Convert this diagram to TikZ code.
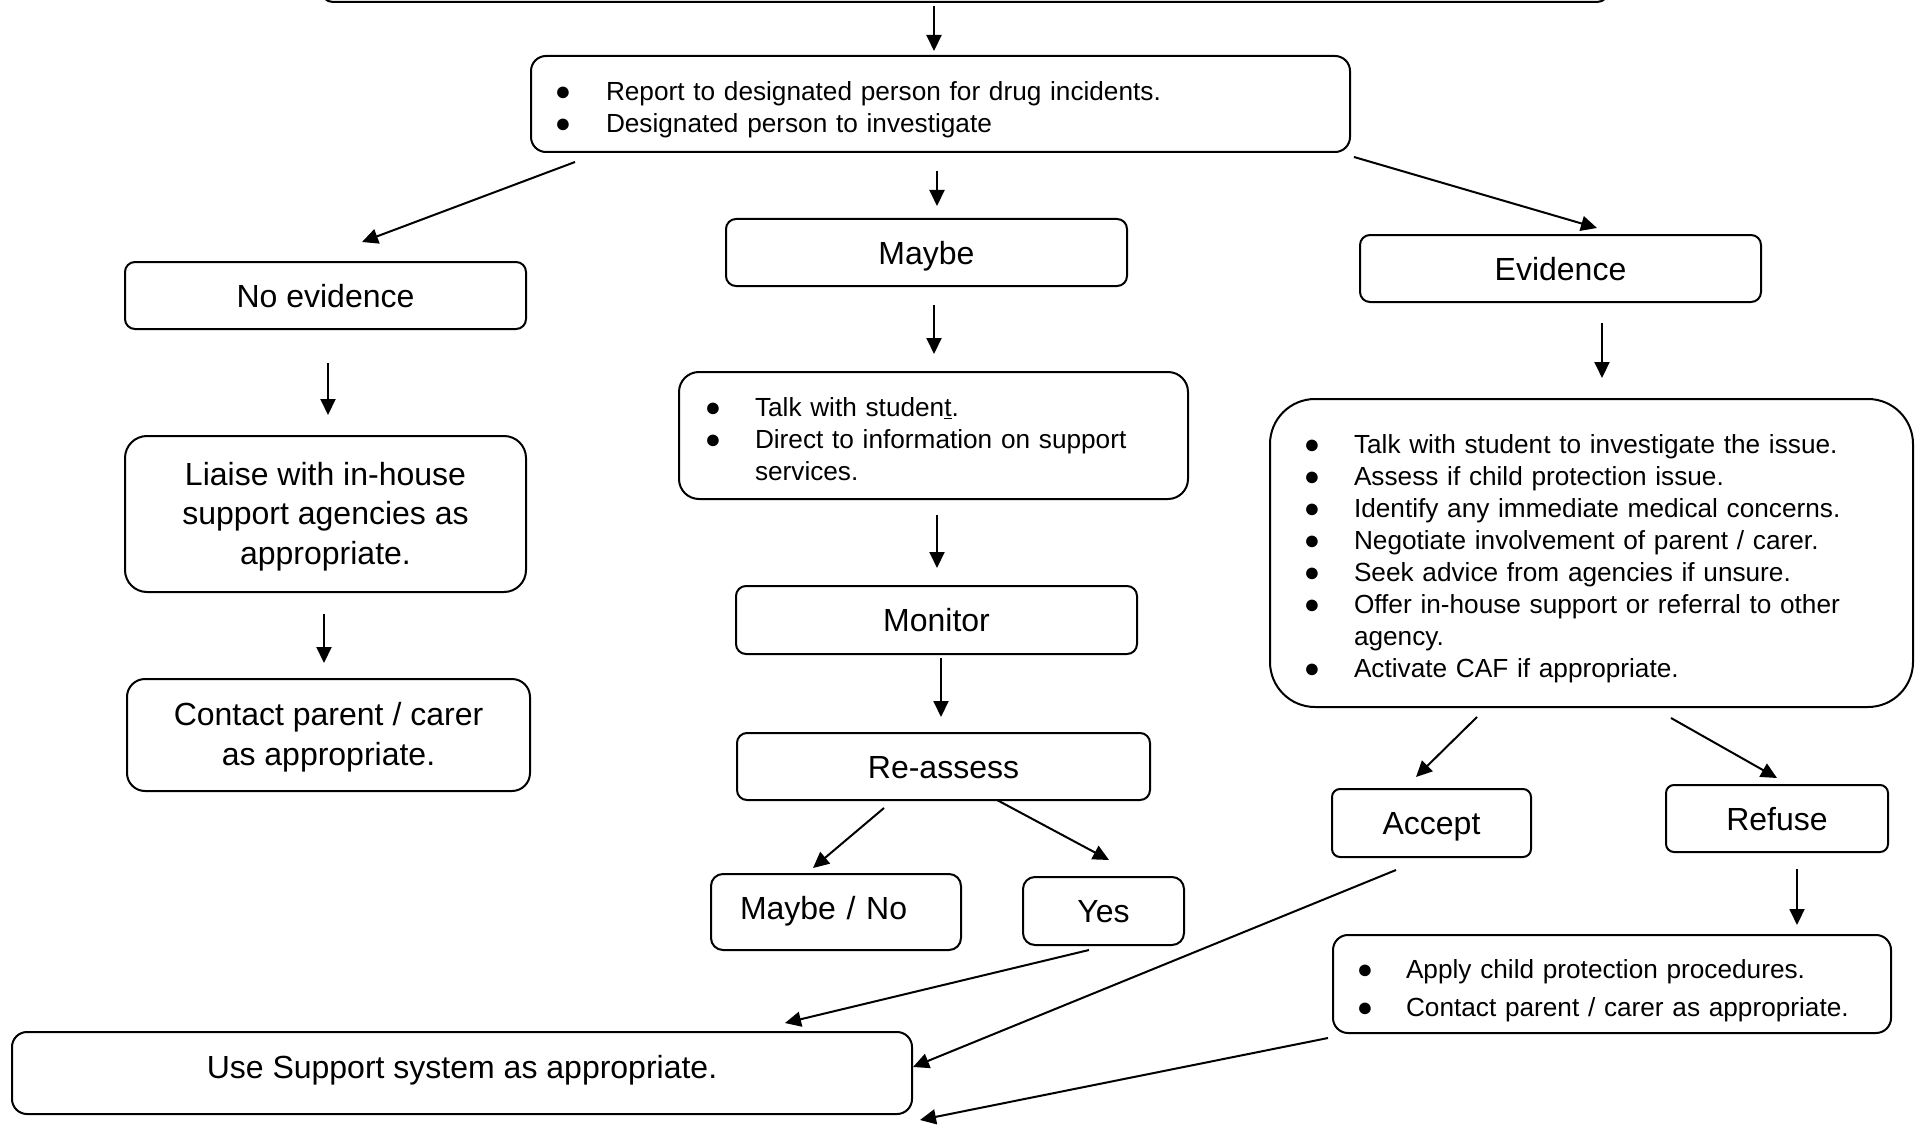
\documentclass[tikz,border=0pt]{standalone}
\usepackage{fontspec}
\setmainfont{Liberation Sans}
\usetikzlibrary{arrows.meta}
\newcommand{\bdot}{\raisebox{0pt}{\fontsize{27}{27}\selectfont ●}}
\newcommand{\bl}[3]{\hspace*{#1pt}\makebox[0pt]{\bdot}\hspace*{#2pt}#3}
\newcommand{\up}[1]{\rule{0pt}{#1pt}}
\begin{document}
\begin{tikzpicture}[x=1pt,y=-1pt,
  box/.style={draw, line width=2pt, inner sep=0pt, outer sep=0pt},
  lbl/.style={font=\fontsize{32}{39}\selectfont, text height=23pt, text depth=0pt},
  multi/.style={font=\fontsize{32}{39.5}\selectfont, align=center},
  small/.style={font=\fontsize{26.2}{32}\selectfont, align=left},
  arr/.style={line width=2pt, -{Triangle[length=16pt,width=15pt]}}]
\useasboundingbox (0,0) rectangle (1919,1126);
% boxes
\node[box, rounded corners=12pt, minimum width=1288pt, minimum height=80pt] (top) at (965,-38) {};
\node[box, rounded corners=15pt, minimum width=819pt, minimum height=96pt, text width=819pt, small] (b1) at (940.5,104)
  {\up{31}\bl{32}{43}{Report to designated person for drug incidents.}\\ \bl{32}{43}{Designated person to investigate}};
\node[box, rounded corners=10pt, minimum width=401pt, minimum height=67pt, lbl] (noev) at (325.5,295.5) {No evidence};
\node[box, rounded corners=10pt, minimum width=401pt, minimum height=67pt, lbl] (maybe) at (926.5,252.5) {Maybe};
\node[box, rounded corners=10pt, minimum width=401pt, minimum height=67pt, lbl] (evid) at (1560.5,268.5) {Evidence};
\node[box, rounded corners=22pt, minimum width=401pt, minimum height=156pt, multi] (liaise) at (325.5,514)
  {\up{28.5}Liaise with in-house\\ support agencies as\\ appropriate.};
\node[box, rounded corners=20pt, minimum width=509pt, minimum height=127pt, text width=509pt, small] (talk) at (933.5,435.5)
  {\up{26}\bl{34}{42}{Talk with studen\underline{t}.}\\ \bl{34}{42}{Direct to information on support}\\ \hspace*{76pt}services.};
\node[box, rounded corners=45pt, minimum width=643pt, minimum height=308pt, text width=643pt, small] (evbig) at (1591.5,553)
  {\up{30}\bl{42}{42}{Talk with student to investigate the issue.}\\
   \bl{42}{42}{Assess if child protection issue.}\\
   \bl{42}{42}{Identify any immediate medical concerns.}\\
   \bl{42}{42}{Negotiate involvement of parent / carer.}\\
   \bl{42}{42}{Seek advice from agencies if unsure.}\\
   \bl{42}{42}{Offer in-house support or referral to other}\\
   \hspace*{84pt}agency.\\
   \bl{42}{42}{Activate CAF if appropriate.}};
\node[box, rounded corners=18pt, minimum width=403pt, minimum height=112pt, multi] (contact) at (328.5,735)
  {\up{28}Contact parent / carer\\ as appropriate.};
\node[box, rounded corners=10pt, minimum width=401pt, minimum height=68pt, lbl] (monitor) at (936.5,620) {Monitor};
\node[box, rounded corners=10pt, minimum width=413pt, minimum height=67pt, lbl] (reassess) at (943.5,766.5) {Re-assess};
\node[box, rounded corners=8pt, minimum width=199pt, minimum height=68pt, lbl] (accept) at (1431.5,823) {Accept};
\node[box, rounded corners=8pt, minimum width=222pt, minimum height=67pt, lbl] (refuse) at (1777,818.5) {Refuse};
\node[box, rounded corners=12pt, minimum width=250pt, minimum height=76pt, text width=192pt, inner xsep=29pt, align=left, lbl, text depth=8pt] (mbno) at (836,912) {Maybe / No};
\node[box, rounded corners=12pt, minimum width=161pt, minimum height=68pt, lbl] (yes) at (1103.5,911) {Yes};
\node[box, rounded corners=15pt, minimum width=558pt, minimum height=98pt, text width=558pt, font=\fontsize{26.2}{38}\selectfont, align=left] (apply) at (1612,984)
  {\up{33}\bl{32}{41}{Apply child protection procedures.}\\ \bl{32}{41}{Contact parent / carer as appropriate.}};
\node[box, rounded corners=15pt, minimum width=900pt, minimum height=82pt, lbl, text depth=12pt] (use) at (462,1073) {Use Support system as appropriate.};
% connector end points
\coordinate (s0) at (934,6);    \coordinate (e0) at (934,51);
\coordinate (s1) at (575,162);  \coordinate (e1) at (362,242);
\coordinate (s2) at (937,171);  \coordinate (e2) at (937,206);
\coordinate (s3) at (1354,157); \coordinate (e3) at (1597,228);
\coordinate (s4) at (328,363);  \coordinate (e4) at (328,415);
\coordinate (s5) at (934,305);  \coordinate (e5) at (934,354);
\coordinate (s6) at (1602,323); \coordinate (e6) at (1602,378);
\coordinate (s7) at (324,614);  \coordinate (e7) at (324,663);
\coordinate (s8) at (937,515);  \coordinate (e8) at (937,568);
\coordinate (s9) at (941,658);  \coordinate (e9) at (941,717);
\coordinate (s10) at (1477,717); \coordinate (e10) at (1416,777);
\coordinate (s11) at (1671,718); \coordinate (e11) at (1777,778);
\coordinate (s12) at (884,808);  \coordinate (e12) at (813,868);
\coordinate (s13) at (997,800);  \coordinate (e13) at (1109,860);
\coordinate (s14) at (1797,869); \coordinate (e14) at (1797,925);
\coordinate (s15) at (1089,950); \coordinate (e15) at (785,1023);
\coordinate (s16) at (1396,870); \coordinate (e16) at (913,1067);
\coordinate (s17) at (1328,1038); \coordinate (e17) at (920,1120);
\foreach \i in {0,...,17} {\draw[arr] (s\i) -- (e\i);}
\end{tikzpicture}
\end{document}
